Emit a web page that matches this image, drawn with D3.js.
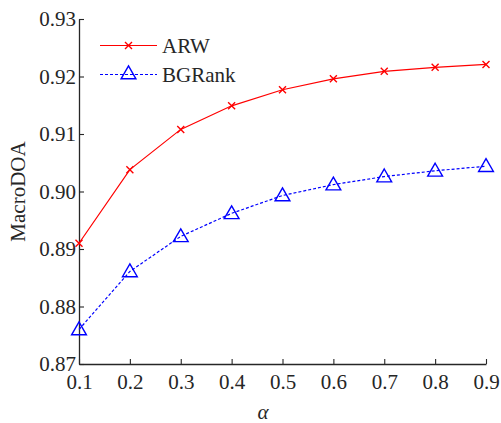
<!DOCTYPE html>
<html>
<head>
<meta charset="utf-8">
<script src="https://cdn.jsdelivr.net/npm/d3@7"></script>
<style>
body{margin:0;background:#fff;}
</style>
</head>
<body>
<svg id="chart" width="501" height="423" style="font-family:'Liberation Serif'"></svg>
<script>
const alphas=[0.1,0.2,0.3,0.4,0.5,0.6,0.7,0.8,0.9];
const arw=[0.8910,0.9038,0.9108,0.9149,0.9177,0.9196,0.9209,0.9216,0.9221];
const bgrank=[0.8760,0.8861,0.8922,0.8962,0.8993,0.9012,0.9026,0.9036,0.9044];
const yTicks=[0.87,0.88,0.89,0.90,0.91,0.92,0.93];

const FONT="'Liberation Serif'";
const FS=21;
const svg=d3.select("#chart");
const plotL=79,plotR=486,plotT=19,plotB=364;

let x=d3.scaleLinear().domain([0.1,0.9]).range([plotL,plotR]);
let y=d3.scaleLinear().domain([0.87,0.93]).range([plotB,plotT]);

// axes, ticks inward like matlab
let xAxis=d3.axisBottom(x).tickValues(alphas).tickFormat(d3.format(".1f"))
    .tickSizeInner(-5).tickSizeOuter(0).tickPadding(10);
let yAxis=d3.axisLeft(y).tickValues(yTicks).tickFormat(d3.format(".2f"))
    .tickSizeInner(-5).tickSizeOuter(0).tickPadding(3);

let gx=svg.append("g").attr("transform","translate(0,"+plotB+")").call(xAxis);
let gy=svg.append("g").attr("transform","translate("+plotL+",0)").call(yAxis);
[gx,gy].forEach(g=>{
    g.attr("font-family",FONT).attr("font-size",FS);
    g.select(".domain").attr("stroke","#262626").attr("stroke-width",1.3);
    g.selectAll(".tick line").attr("stroke","#262626").attr("stroke-width",1.1);
    g.selectAll(".tick text").attr("font-family",FONT).attr("font-size",FS).attr("fill","#262626");
});

let line=d3.line().x((d,i)=>x(alphas[i])).y(d=>y(d));

svg.append("path").datum(arw)
    .attr("d",line).attr("fill","none").attr("stroke","#ff0000").attr("stroke-width",1.2);
svg.append("path").datum(bgrank)
    .attr("d",line).attr("fill","none").attr("stroke","#0000ff").attr("stroke-width",1.2)
    .attr("stroke-dasharray","3,2");

function cross(g,cx,cy){
    let s=3.5;
    g.append("path")
        .attr("d","M"+(cx-s)+","+(cy-s)+"L"+(cx+s)+","+(cy+s)+"M"+(cx-s)+","+(cy+s)+"L"+(cx+s)+","+(cy-s))
        .attr("stroke","#ff0000").attr("stroke-width",1.4).attr("fill","none");
}
function tri(g,cx,cy){
    g.append("path")
        .attr("d",d3.symbol().type(d3.symbolTriangle).size(95)())
        .attr("transform","translate("+cx+","+(cy+1)+")")
        .attr("fill","none").attr("stroke","#0000ff").attr("stroke-width",1.4);
}

let marks=svg.append("g");
arw.forEach((v,i)=>cross(marks,x(alphas[i]),y(v)));
bgrank.forEach((v,i)=>tri(marks,x(alphas[i]),y(v)));

function label(g,xx,yy,txt){
    return g.append("text").attr("x",xx).attr("y",yy)
        .attr("font-family",FONT).attr("font-size",FS).attr("fill","#262626").text(txt);
}

// legend
let lg=svg.append("g");
lg.append("line").attr("x1",100).attr("x2",157).attr("y1",45.5).attr("y2",45.5)
    .attr("stroke","#ff0000").attr("stroke-width",1.2);
cross(lg,128.5,45.5);
label(lg,162,53,"ARW");
lg.append("line").attr("x1",100).attr("x2",157).attr("y1",74.5).attr("y2",74.5)
    .attr("stroke","#0000ff").attr("stroke-width",1.2).attr("stroke-dasharray","3,2");
tri(lg,128.5,73.5);
label(lg,162,82,"BGRank");

// axis labels
label(svg,263,419,"α").attr("text-anchor","middle").attr("font-style","italic");
label(svg,0,0,"MacroDOA").attr("text-anchor","middle")
    .attr("transform","translate(25,"+((plotT+plotB)/2)+") rotate(-90)");
</script>
</body>
</html>
